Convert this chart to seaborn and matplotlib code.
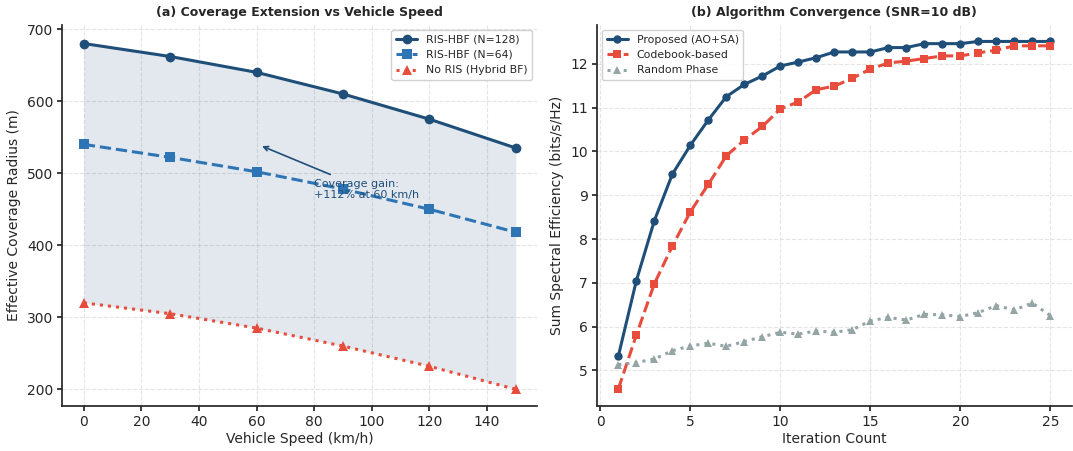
import numpy as np
import pandas as pd
import matplotlib
matplotlib.use("Agg")
import matplotlib.pyplot as plt
import seaborn as sns

# Panel (a) data
speeds = [0, 30, 60, 90, 120, 150]
ris128 = [680, 662, 640, 610, 575, 535]
ris64 = [540, 522, 502, 478, 450, 418]
noris = [320, 305, 285, 260, 232, 200]

# Panel (b) data
iters = list(range(1, 26))
proposed = [5.33, 7.05, 8.42, 9.48, 10.14, 10.72, 11.25, 11.53, 11.72, 11.95,
            12.04, 12.14, 12.27, 12.27, 12.27, 12.37, 12.37, 12.46, 12.46, 12.46,
            12.51, 12.51, 12.51, 12.51, 12.51]
codebook = [4.58, 5.81, 6.98, 7.84, 8.62, 9.25, 9.90, 10.26, 10.57, 10.97,
            11.13, 11.41, 11.49, 11.67, 11.88, 12.02, 12.06, 12.12, 12.18, 12.18,
            12.25, 12.31, 12.41, 12.41, 12.41]
random_phase = [5.13, 5.18, 5.26, 5.45, 5.56, 5.62, 5.55, 5.66, 5.77, 5.87,
                5.83, 5.90, 5.87, 5.93, 6.13, 6.21, 6.15, 6.28, 6.27, 6.23,
                6.32, 6.48, 6.38, 6.54, 6.25]

sns.set_theme(style="ticks")
plt.rcParams['font.family'] = ['DejaVu Sans']

C_DARK = "#1f4e79"
C_MID = "#2e75b6"
C_RED = "#e74c3c"
C_GRAY = "#95a5a6"

fig, (ax1, ax2) = plt.subplots(1, 2, figsize=(10.73, 4.51), dpi=100)

dfa = pd.DataFrame({"speed": speeds, "r128": ris128, "r64": ris64, "no": noris})
ax1.fill_between(dfa["speed"], dfa["no"], dfa["r128"], color=C_DARK, alpha=0.13, linewidth=0)
sns.lineplot(data=dfa, x="speed", y="r128", ax=ax1, color=C_DARK, marker="o", markersize=7,
             linewidth=2.2, markeredgewidth=0, label="RIS-HBF (N=128)")
sns.lineplot(data=dfa, x="speed", y="r64", ax=ax1, color=C_MID, marker="s", markersize=7,
             linewidth=2.2, linestyle="--", markeredgewidth=0, label="RIS-HBF (N=64)")
sns.lineplot(data=dfa, x="speed", y="no", ax=ax1, color=C_RED, marker="^", markersize=7,
             linewidth=2.2, linestyle=":", markeredgewidth=0, label="No RIS (Hybrid BF)")
ax1.annotate("Coverage gain:\n+112% at 60 km/h", xy=(61, 539), xytext=(80, 465),
             fontsize=8, color=C_DARK,
             arrowprops=dict(arrowstyle="->", color=C_DARK, lw=1.2))
ax1.set_xlabel("Vehicle Speed (km/h)", fontsize=10)
ax1.set_ylabel("Effective Coverage Radius (m)", fontsize=10)
ax1.set_title("(a) Coverage Extension vs Vehicle Speed", fontsize=9, fontweight="bold")
ax1.set_ylim(177, 706)
ax1.set_xlim(-7.5, 157.5)
ax1.legend(loc="upper right", fontsize=7.8, framealpha=0.9)

dfb = pd.DataFrame({"it": iters, "p": proposed, "c": codebook, "r": random_phase})
sns.lineplot(data=dfb, x="it", y="p", ax=ax2, color=C_DARK, marker="o", markersize=6,
             linewidth=2.2, markeredgewidth=0, label="Proposed (AO+SA)")
sns.lineplot(data=dfb, x="it", y="c", ax=ax2, color=C_RED, marker="s", markersize=6,
             linewidth=2.2, linestyle="--", markeredgewidth=0, label="Codebook-based")
sns.lineplot(data=dfb, x="it", y="r", ax=ax2, color=C_GRAY, marker="^", markersize=6,
             linewidth=2.2, linestyle=":", markeredgewidth=0, label="Random Phase")
ax2.set_xlabel("Iteration Count", fontsize=10)
ax2.set_ylabel("Sum Spectral Efficiency (bits/s/Hz)", fontsize=10)
ax2.set_title("(b) Algorithm Convergence (SNR=10 dB)", fontsize=9, fontweight="bold")
ax2.set_ylim(4.19, 12.89)
ax2.set_xticks([0, 5, 10, 15, 20, 25])
ax2.legend(loc="upper left", fontsize=7.8, framealpha=0.9)

for ax in (ax1, ax2):
    ax.grid(True, linestyle="--", alpha=0.5, linewidth=0.8)
    ax.tick_params(labelsize=10, length=3.5, pad=3)
    ax.xaxis.labelpad = 2
    sns.despine(ax=ax)

fig.subplots_adjust(left=0.058, right=0.999, bottom=0.1, top=0.945, wspace=0.125)
fig.savefig("out.png", dpi=100)
